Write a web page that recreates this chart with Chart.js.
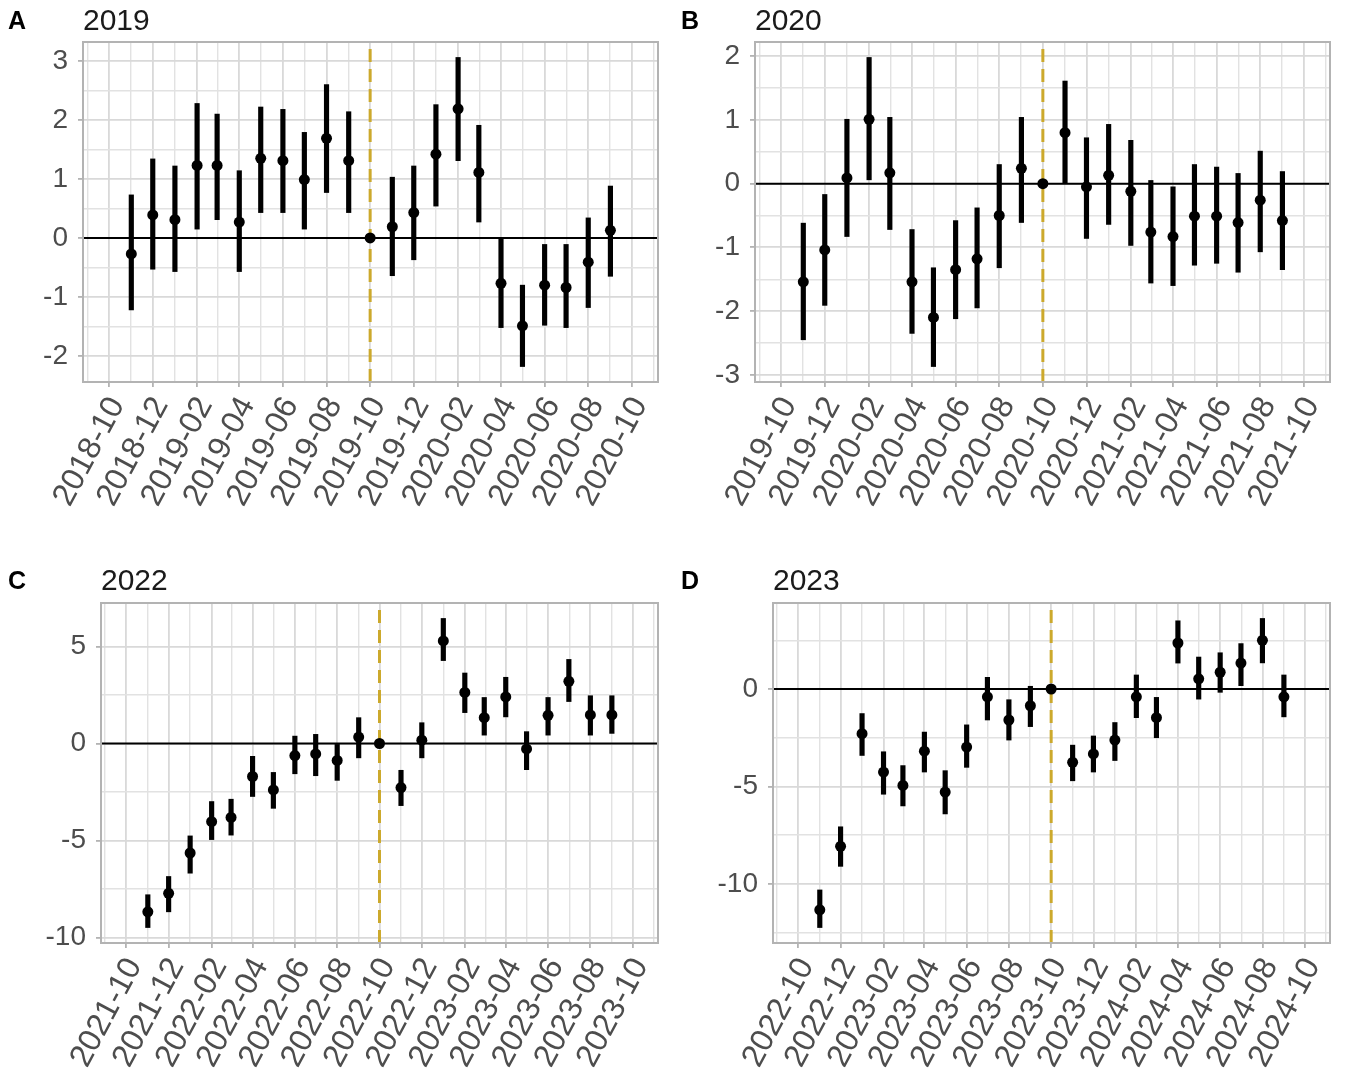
<!DOCTYPE html>
<html>
<head>
<meta charset="utf-8">
<title>Monthly event-study estimates</title>
<script src="https://cdn.jsdelivr.net/npm/chart.js@4/dist/chart.umd.min.js"></script>
<style>
  html, body { margin: 0; padding: 0; background: #ffffff; }
  #fig { position: relative; width: 1346px; height: 1081px; overflow: hidden; }
  #fig canvas { position: absolute; }
</style>
</head>
<body>
<div id="fig">
  <canvas id="panelA" width="673" height="560" style="left:0;top:0;width:673px;height:560px"></canvas>
  <canvas id="panelB" width="673" height="560" style="left:673px;top:0;width:673px;height:560px"></canvas>
  <canvas id="panelC" width="673" height="521" style="left:0;top:560px;width:673px;height:521px"></canvas>
  <canvas id="panelD" width="673" height="521" style="left:673px;top:560px;width:673px;height:521px"></canvas>
</div>
<script>
// ---------- Panel A: 2019 ----------
const monthsA = ['2018-11','2018-12','2019-01','2019-02','2019-03','2019-04','2019-05','2019-06','2019-07','2019-08','2019-09','2019-10',
                 '2019-11','2019-12','2020-01','2020-02','2020-03','2020-04','2020-05','2020-06','2020-07','2020-08','2020-09'];
const estA  = [-0.27, 0.39, 0.31, 1.23, 1.23, 0.27, 1.35, 1.31, 0.99, 1.69, 1.31, 0,
               0.19, 0.43, 1.42, 2.19, 1.11, -0.77, -1.49, -0.80, -0.84, -0.41, 0.13];
const lowA  = [-1.22, -0.53, -0.57, 0.15, 0.31, -0.57, 0.43, 0.43, 0.15, 0.77, 0.43, null,
               -0.64, -0.37, 0.54, 1.31, 0.27, -1.52, -2.18, -1.48, -1.52, -1.18, -0.65];
const highA = [0.73, 1.34, 1.22, 2.28, 2.10, 1.14, 2.22, 2.18, 1.79, 2.60, 2.14, null,
               1.03, 1.22, 2.26, 3.06, 1.91, -0.01, -0.80, -0.11, -0.11, 0.34, 0.88];
const refA = '2019-10';
const xTicksA = ['2018-10','2018-12','2019-02','2019-04','2019-06','2019-08','2019-10','2019-12','2020-02','2020-04','2020-06','2020-08','2020-10'];
const yTicksA = [-2, -1, 0, 1, 2, 3];

// ---------- Panel B: 2020 ----------
const monthsB = ['2019-11','2019-12','2020-01','2020-02','2020-03','2020-04','2020-05','2020-06','2020-07','2020-08','2020-09','2020-10',
                 '2020-11','2020-12','2021-01','2021-02','2021-03','2021-04','2021-05','2021-06','2021-07','2021-08','2021-09'];
const estB  = [-1.54, -1.04, 0.09, 1.01, 0.17, -1.54, -2.10, -1.35, -1.18, -0.50, 0.24, 0,
               0.80, -0.05, 0.13, -0.12, -0.76, -0.83, -0.51, -0.51, -0.61, -0.26, -0.58];
const lowB  = [-2.45, -1.91, -0.83, 0.06, -0.72, -2.35, -2.87, -2.12, -1.95, -1.32, -0.61, null,
               0.00, -0.86, -0.64, -0.97, -1.56, -1.60, -1.28, -1.25, -1.39, -1.07, -1.35];
const highB = [-0.62, -0.17, 1.01, 1.98, 1.04, -0.72, -1.32, -0.58, -0.38, 0.30, 1.04, null,
               1.61, 0.72, 0.93, 0.68, 0.05, -0.05, 0.30, 0.26, 0.16, 0.51, 0.19];
const refB = '2020-10';
const xTicksB = ['2019-10','2019-12','2020-02','2020-04','2020-06','2020-08','2020-10','2020-12','2021-02','2021-04','2021-06','2021-08','2021-10'];
const yTicksB = [-3, -2, -1, 0, 1, 2];

// ---------- Panel C: 2022 ----------
const monthsC = ['2021-11','2021-12','2022-01','2022-02','2022-03','2022-04','2022-05','2022-06','2022-07','2022-08','2022-09','2022-10',
                 '2022-11','2022-12','2023-01','2023-02','2023-03','2023-04','2023-05','2023-06','2023-07','2023-08','2023-09'];
const estC  = [-8.67, -7.72, -5.64, -4.03, -3.81, -1.70, -2.39, -0.62, -0.54, -0.87, 0.33, 0,
               -2.27, 0.17, 5.28, 2.63, 1.33, 2.40, -0.28, 1.45, 3.20, 1.47, 1.47];
const lowC  = [-9.48, -8.67, -6.68, -4.95, -4.72, -2.73, -3.34, -1.56, -1.66, -1.90, -0.74, null,
               -3.20, -0.74, 4.27, 1.59, 0.43, 1.37, -1.35, 0.43, 2.16, 0.43, 0.52];
const highC = [-7.79, -6.85, -4.76, -2.99, -2.87, -0.66, -1.49, 0.38, 0.47, 0.00, 1.33, null,
               -1.38, 1.07, 6.44, 3.63, 2.37, 3.41, 0.61, 2.37, 4.33, 2.46, 2.46];
const refC = '2022-10';
const xTicksC = ['2021-10','2021-12','2022-02','2022-04','2022-06','2022-08','2022-10','2022-12','2023-02','2023-04','2023-06','2023-08','2023-10'];
const yTicksC = [-10, -5, 0, 5];

// ---------- Panel D: 2023 ----------
const monthsD = ['2022-11','2022-12','2023-01','2023-02','2023-03','2023-04','2023-05','2023-06','2023-07','2023-08','2023-09','2023-10',
                 '2023-11','2023-12','2024-01','2024-02','2024-03','2024-04','2024-05','2024-06','2024-07','2024-08','2024-09'];
const estD  = [-11.33, -8.07, -2.29, -4.26, -4.95, -3.19, -5.29, -2.98, -0.40, -1.59, -0.86, 0,
               -3.76, -3.33, -2.62, -0.40, -1.47, 2.36, 0.52, 0.86, 1.33, 2.50, -0.40];
const lowD  = [-12.24, -9.10, -3.41, -5.40, -6.00, -4.26, -6.41, -4.02, -1.59, -2.62, -1.93, null,
               -4.71, -4.26, -3.67, -1.47, -2.50, 1.33, -0.52, -0.17, 0.17, 1.34, -1.43];
const highD = [-10.31, -7.07, -1.26, -3.22, -3.93, -2.21, -4.19, -1.84, 0.60, -0.55, 0.14, null,
               -2.88, -2.41, -1.72, 0.72, -0.43, 3.50, 1.64, 1.86, 2.33, 3.62, 0.72];
const refD = '2023-10';
const xTicksD = ['2022-10','2022-12','2023-02','2023-04','2023-06','2023-08','2023-10','2023-12','2024-02','2024-04','2024-06','2024-08','2024-10'];
const yTicksD = [-10, -5, 0];

// ---------- drawing ----------
const FONT = '"Liberation Sans", Arial, sans-serif';
const AXIS_TEXT = '#4d4d4d';
const BORDER = '#b3b3b3';
const GRID_MAJOR = '#d9d9d9';
const GRID_MINOR = '#e2e2e2';
const GOLD = '#cca92c';

Chart.defaults.font.family = FONT;

// month string 'YYYY-MM' -> day number (first of month)
const toDay = m => {
  const [y, mo] = m.split('-').map(Number);
  return Date.UTC(y, mo - 1, 1) / 864e5;
};

// major ticks plus ggplot-style minor breaks halfway between them
function withMinor(major, lo, hi) {
  const out = major.filter(v => v >= lo && v <= hi).map(v => ({ value: v }));
  const step = major[1] - major[0];
  const ext = [major[0] - step, ...major, major[major.length - 1] + step];
  for (let i = 0; i < ext.length - 1; i++) {
    const mid = (ext[i] + ext[i + 1]) / 2;
    if (mid >= lo && mid <= hi) out.push({ value: mid, minor: true });
  }
  return out.sort((a, b) => a.value - b.value);
}

// panel tag, title and frame
const panelDeco = {
  id: 'panelDeco',
  afterDraw(chart, args, opts) {
    const ctx = chart.ctx, a = chart.chartArea;
    ctx.save();
    ctx.strokeStyle = BORDER;
    ctx.lineWidth = 2;
    ctx.strokeRect(a.left, a.top, a.right - a.left, a.bottom - a.top);
    ctx.textBaseline = 'alphabetic';
    ctx.textAlign = 'left';
    ctx.fillStyle = '#000000';
    ctx.font = 'bold 25px ' + FONT;
    ctx.fillText(opts.tag, 8, 29);
    ctx.fillStyle = '#1a1a1a';
    ctx.font = '30px ' + FONT;
    ctx.fillText(opts.title, a.left, 30);
    ctx.restore();
  }
};

const isMinor = c => !!(c.tick && c.tick.minor);

function drawPanel(p) {
  const canvas = document.getElementById(p.id);
  const W = canvas.width, H = canvas.height;

  const xs = p.months.map(toDay);
  const xMajor = p.xTicks.map(toDay);
  const xSpan = xMajor[xMajor.length - 1] - xMajor[0];
  const xMin = xMajor[0] - 0.05 * xSpan;
  const xMax = xMajor[xMajor.length - 1] + 0.05 * xSpan;

  const vals = [...p.est, ...p.low.filter(v => v !== null), ...p.high.filter(v => v !== null)];
  const yLo = Math.min(...vals), yHi = Math.max(...vals);
  const yMin = yLo - 0.05 * (yHi - yLo);
  const yMax = yHi + 0.05 * (yHi - yLo);

  const xTickSet = withMinor(xMajor, xMin, xMax);
  const yTickSet = withMinor(p.yTicks, yMin, yMax);
  const xLabel = Object.fromEntries(p.xTicks.map(m => [toDay(m), m]));
  const refX = toDay(p.ref);

  const grid = {
    offset: false,
    color: c => isMinor(c) ? GRID_MINOR : GRID_MAJOR,
    lineWidth: c => isMinor(c) ? 1.4 : 1.8,
    tickColor: c => isMinor(c) ? 'rgba(0,0,0,0)' : BORDER,
    tickWidth: 1.8,
    tickLength: 5,
    drawTicks: true
  };

  new Chart(canvas, {
    type: 'scatter',
    data: {
      datasets: [
        {
          type: 'scatter',
          data: xs.map((x, i) => ({ x, y: p.est[i] })),
          pointRadius: 5.5,
          pointBackgroundColor: '#000000',
          pointBorderWidth: 0,
          order: 0
        },
        {
          type: 'bar',
          data: xs.map((x, i) => ({ x, y: [p.low[i], p.high[i]] })).filter((d, i) => p.low[i] !== null),
          backgroundColor: '#000000',
          borderWidth: 0,
          barThickness: 4.5,
          grouped: false,
          order: 1
        },
        {
          type: 'line',
          data: [{ x: refX, y: yMin }, { x: refX, y: yMax }],
          showLine: true,
          borderColor: GOLD,
          borderWidth: 3,
          borderDash: [13, 7],
          pointRadius: 0,
          order: 2
        },
        {
          type: 'line',
          data: [{ x: xMin, y: 0 }, { x: xMax, y: 0 }],
          showLine: true,
          borderColor: '#000000',
          borderWidth: 2,
          pointRadius: 0,
          order: 3
        }
      ]
    },
    options: {
      responsive: false,
      devicePixelRatio: 1,
      animation: false,
      events: [],
      layout: { padding: { left: 0, top: p.box.top, right: W - p.box.right, bottom: 0 } },
      plugins: {
        legend: { display: false },
        tooltip: { enabled: false },
        panelDeco: { tag: p.tag, title: p.title }
      },
      scales: {
        x: {
          type: 'linear',
          min: xMin,
          max: xMax,
          offset: false,
          grid,
          border: { display: false },
          afterBuildTicks: s => { s.ticks = xTickSet.map(t => ({ ...t })); },
          afterFit: s => {
            s.height = H - p.box.bottom;
            s.paddingLeft = 0; s.paddingRight = 0; s.paddingTop = 0; s.paddingBottom = 0;
          },
          ticks: {
            autoSkip: false,
            minRotation: 62,
            maxRotation: 62,
            padding: 4,
            labelOffset: 8,
            color: AXIS_TEXT,
            font: { size: 32, family: FONT },
            callback: (v, i, ticks) => ticks[i].minor ? '' : (xLabel[v] || '')
          }
        },
        y: {
          type: 'linear',
          min: yMin,
          max: yMax,
          grid,
          border: { display: false },
          afterBuildTicks: s => { s.ticks = yTickSet.map(t => ({ ...t })); },
          afterFit: s => {
            s.width = p.box.left;
            s.paddingLeft = 0; s.paddingRight = 0; s.paddingTop = 0; s.paddingBottom = 0;
          },
          ticks: {
            autoSkip: false,
            padding: 10,
            color: AXIS_TEXT,
            font: { size: 28, family: FONT },
            callback: (v, i, ticks) => ticks[i].minor ? '' : String(v)
          }
        }
      }
    },
    plugins: [panelDeco]
  });
}

drawPanel({ id: 'panelA', tag: 'A', title: '2019', months: monthsA, est: estA, low: lowA, high: highA,
            ref: refA, xTicks: xTicksA, yTicks: yTicksA, box: { left: 83, right: 658, top: 42, bottom: 382 } });
drawPanel({ id: 'panelB', tag: 'B', title: '2020', months: monthsB, est: estB, low: lowB, high: highB,
            ref: refB, xTicks: xTicksB, yTicks: yTicksB, box: { left: 82, right: 657, top: 42, bottom: 382 } });
drawPanel({ id: 'panelC', tag: 'C', title: '2022', months: monthsC, est: estC, low: lowC, high: highC,
            ref: refC, xTicks: xTicksC, yTicks: yTicksC, box: { left: 101, right: 658, top: 43, bottom: 383 } });
drawPanel({ id: 'panelD', tag: 'D', title: '2023', months: monthsD, est: estD, low: lowD, high: highD,
            ref: refD, xTicks: xTicksD, yTicks: yTicksD, box: { left: 100, right: 657, top: 43, bottom: 383 } });
</script>
</body>
</html>
